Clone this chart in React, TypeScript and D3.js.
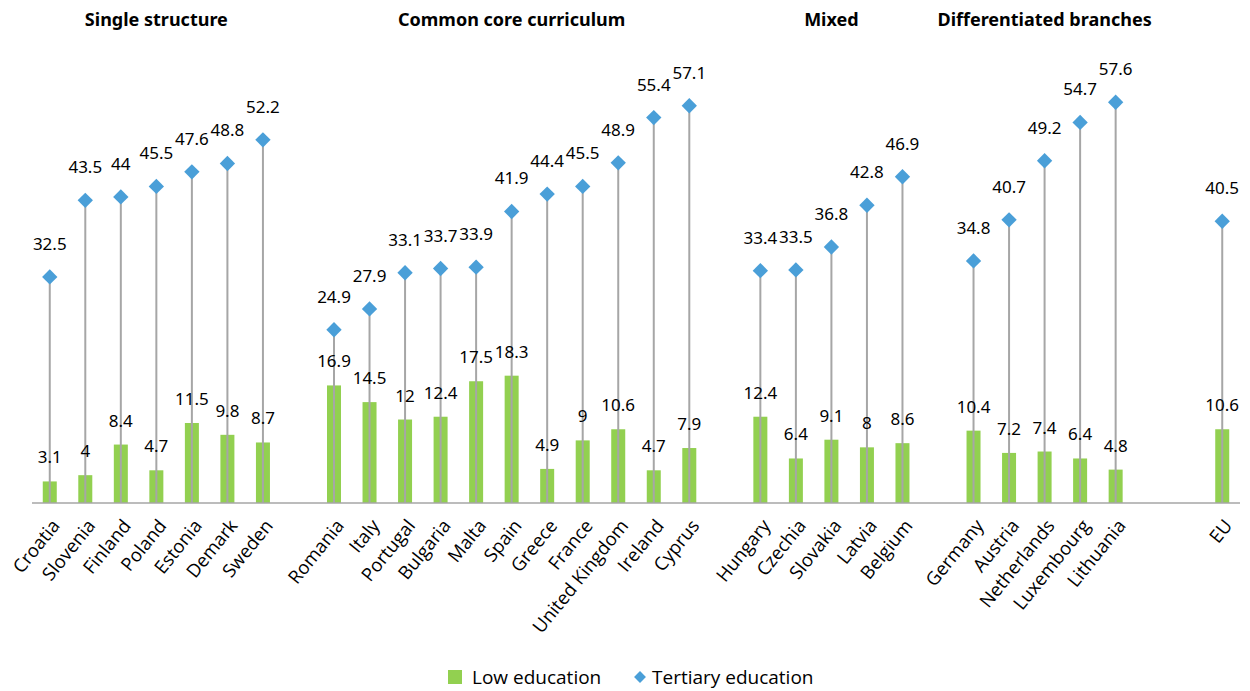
import React from "react";
import * as d3 from "d3";

const countries = [
  "Croatia", "Slovenia", "Finland", "Poland", "Estonia", "Demark", "Sweden",
  "Romania", "Italy", "Portugal", "Bulgaria", "Malta", "Spain", "Greece", "France", "United Kingdom", "Ireland", "Cyprus",
  "Hungary", "Czechia", "Slovakia", "Latvia", "Belgium",
  "Germany", "Austria", "Netherlands", "Luxembourg", "Lithuania",
  "EU",
];
const lowEducation = [
  3.1, 4, 8.4, 4.7, 11.5, 9.8, 8.7,
  16.9, 14.5, 12, 12.4, 17.5, 18.3, 4.9, 9, 10.6, 4.7, 7.9,
  12.4, 6.4, 9.1, 8, 8.6,
  10.4, 7.2, 7.4, 6.4, 4.8,
  10.6,
];
const tertiaryEducation = [
  32.5, 43.5, 44, 45.5, 47.6, 48.8, 52.2,
  24.9, 27.9, 33.1, 33.7, 33.9, 41.9, 44.4, 45.5, 48.9, 55.4, 57.1,
  33.4, 33.5, 36.8, 42.8, 46.9,
  34.8, 40.7, 49.2, 54.7, 57.6,
  40.5,
];
const groupTitles = ["Single structure", "Common core curriculum", "Mixed", "Differentiated branches", ""];
const groupSizes = [7, 11, 5, 5, 1];
const seriesNames = ["Low education", "Tertiary education"];

const W = 1250;
const H = 691;
const GREEN = "#92d050";
const BLUE = "#4a9fd8";
const GREY = "#a6a6a6";
const spacersAfter = [1, 1, 1, 2, 0];

export default function App() {
  const slots: string[] = [];
  const groupMembers: string[][] = [];
  let k = 0;
  groupSizes.forEach((n, gi) => {
    const members = countries.slice(k, k + n);
    groupMembers.push(members);
    members.forEach((c) => slots.push(c));
    for (let s = 0; s < spacersAfter[gi]; s++) slots.push(`__gap${gi}_${s}`);
    k += n;
  });

  const xs = d3.scaleBand<string>().domain(slots).range([32, 1240]);
  const cx = (c: string) => (xs(c) as number) + xs.bandwidth() / 2;
  const barW = 14;
  const y = d3.scaleLinear().domain([0, 70]).range([503, 16]);
  const diamond = d3.symbol().type(d3.symbolDiamond2).size(150)();
  const legendDiamond = d3.symbol().type(d3.symbolDiamond2).size(90)();

  const dataFont = "'Noto Sans', sans-serif";
  const catFont = "'Open Sans', sans-serif";

  return (
    <div style={{ position: "absolute", left: 0, top: 0 }}>
      <svg width={W} height={H} style={{ display: "block" }}>
        <rect width={W} height={H} fill="#fff" />
        {groupTitles.map((t, gi) => {
          if (!t) return null;
          const m = groupMembers[gi];
          const mid = (cx(m[0]) + cx(m[m.length - 1])) / 2;
          return (
            <text key={t} x={mid} y={26} textAnchor="middle" fontFamily={dataFont} fontWeight={700} fontSize={18} fill="#000">
              {t}
            </text>
          );
        })}
        {countries.map((c, i) => (
          <rect key={"b" + c} x={cx(c) - barW / 2} y={y(lowEducation[i])} width={barW} height={y(0) - y(lowEducation[i])} fill={GREEN} />
        ))}
        {countries.map((c, i) => (
          <line key={"l" + c} x1={cx(c)} x2={cx(c)} y1={y(0)} y2={y(tertiaryEducation[i])} stroke={GREY} strokeWidth={2} />
        ))}
        <line x1={32} x2={1240} y1={y(0)} y2={y(0)} stroke={GREY} strokeWidth={1.5} />
        {countries.map((c, i) => (
          <path key={"d" + c} d={diamond as string} transform={`translate(${cx(c)},${y(tertiaryEducation[i])})`} fill={BLUE} />
        ))}
        {countries.map((c, i) => (
          <text key={"tl" + c} x={cx(c)} y={y(tertiaryEducation[i]) - 27} textAnchor="middle" fontFamily={dataFont} fontSize={17} fill="#000">
            {tertiaryEducation[i]}
          </text>
        ))}
        {countries.map((c, i) => (
          <text key={"ll" + c} x={cx(c)} y={y(lowEducation[i]) - 18} textAnchor="middle" fontFamily={dataFont} fontSize={17} fill="#000">
            {lowEducation[i]}
          </text>
        ))}
        {countries.map((c) => (
          <text
            key={"c" + c}
            transform={`translate(${cx(c) + 6},${522}) rotate(-51)`}
            textAnchor="end"
            fontFamily={catFont}
            fontSize={18.5}
            dy="0.35em"
            fill="#000"
          >
            {c}
          </text>
        ))}
        <rect x={448} y={670} width={14} height={14} fill={GREEN} />
        <text x={472} y={677} dy="0.35em" fontFamily={catFont} fontSize={19} fill="#000">{seriesNames[0]}</text>
        <path d={legendDiamond as string} transform="translate(640,677)" fill={BLUE} />
        <text x={652} y={677} dy="0.35em" fontFamily={catFont} fontSize={19} fill="#000">{seriesNames[1]}</text>
      </svg>
    </div>
  );
}
